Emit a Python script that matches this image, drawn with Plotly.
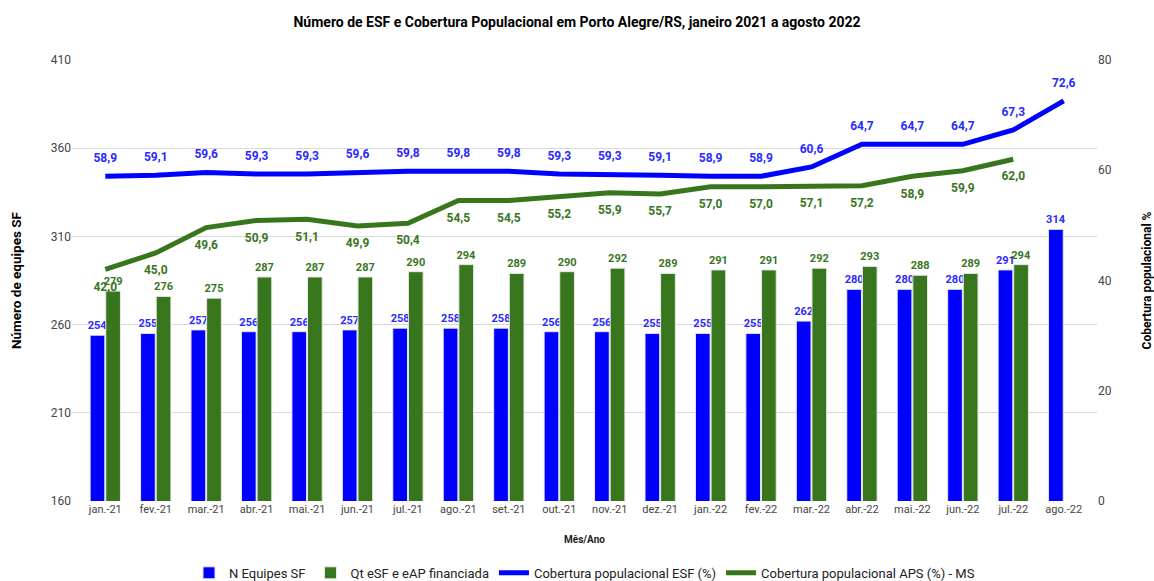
import plotly.graph_objects as go

meses = ["jan.-21", "fev.-21", "mar.-21", "abr.-21", "mai.-21", "jun.-21", "jul.-21",
         "ago.-21", "set.-21", "out.-21", "nov.-21", "dez.-21", "jan.-22", "fev.-22",
         "mar.-22", "abr.-22", "mai.-22", "jun.-22", "jul.-22", "ago.-22"]

n_equipes_sf = [254, 255, 257, 256, 256, 257, 258, 258, 258, 256, 256, 255, 255, 255,
                262, 280, 280, 280, 291, 314]
qt_financiada = [279, 276, 275, 287, 287, 287, 290, 294, 289, 290, 292, 289, 291, 291,
                 292, 293, 288, 289, 294, None]
cob_esf = [58.9, 59.1, 59.6, 59.3, 59.3, 59.6, 59.8, 59.8, 59.8, 59.3, 59.3, 59.1, 58.9,
           58.9, 60.6, 64.7, 64.7, 64.7, 67.3, 72.6]
cob_aps = [42.0, 45.0, 49.6, 50.9, 51.1, 49.9, 50.4, 54.5, 54.5, 55.2, 55.9, 55.7, 57.0,
           57.0, 57.1, 57.2, 58.9, 59.9, 62.0, None]

AZUL = "#0000ff"
VERDE = "#38761d"


def fmt(v):
    # vírgula decimal
    return "" if v is None else f"{v:.1f}".replace(".", ",")


fig = go.Figure()

fig.add_trace(go.Bar(
    x=meses, y=n_equipes_sf, name="N Equipes SF",
    marker=dict(color=AZUL, line=dict(color="#e8e8e8", width=1)),
    text=n_equipes_sf, textposition="outside", constraintext="none", cliponaxis=False,
    textfont=dict(color="#2a2aff", size=11, family="Roboto", weight="bold"),
))
fig.add_trace(go.Bar(
    x=meses, y=qt_financiada, name="Qt eSF e eAP financiada",
    marker=dict(color=VERDE, line=dict(color="#e8e8e8", width=1)),
    text=[("" if v is None else v) for v in qt_financiada], textposition="outside",
    constraintext="none", cliponaxis=False,
    textfont=dict(color=VERDE, size=11, family="Roboto", weight="bold"),
))
fig.add_trace(go.Scatter(
    x=meses, y=cob_esf, name="Cobertura populacional ESF (%)", yaxis="y2",
    mode="lines+markers+text", line=dict(color=AZUL, width=5),
    marker=dict(size=16, color="rgba(0,0,0,0)"),
    text=[fmt(v) for v in cob_esf], textposition="top center", cliponaxis=False,
    textfont=dict(color="#2a2aff", size=12, family="Roboto", weight="bold"),
))
fig.add_trace(go.Scatter(
    x=meses, y=cob_aps, name="Cobertura populacional APS (%) - MS", yaxis="y2",
    mode="lines+markers+text", line=dict(color=VERDE, width=5),
    marker=dict(size=18, color="rgba(0,0,0,0)"),
    text=[fmt(v) for v in cob_aps], textposition="bottom center", cliponaxis=False,
    textfont=dict(color=VERDE, size=12, family="Roboto", weight="bold"),
))

fig.update_layout(
    width=1154, height=581,
    margin=dict(l=72, r=57, t=60, b=80, autoexpand=False),
    paper_bgcolor="white", plot_bgcolor="white",
    font=dict(family="Roboto", color="#222"),
    title=dict(text="<b>Número de ESF e Cobertura Populacional em Porto Alegre/RS, janeiro 2021 a agosto 2022</b>",
               x=0.5, xanchor="center", y=0.962, yanchor="middle", yref="container",
               font=dict(size=14, color="#000")),
    barmode="group", bargap=0.38, bargroupgap=0.06,
    xaxis=dict(range=[-0.66, 19.66], tickfont=dict(size=11, color="#444"), automargin=False,
               title=dict(text="<b>Mês/Ano</b>", font=dict(size=10, color="#222"), standoff=20),
               showgrid=False, ticks=""),
    yaxis=dict(range=[160, 410], tickvals=[160, 210, 260, 310, 360, 410], automargin=False,
               gridcolor="#d9d9d9", zeroline=False, tickfont=dict(size=12, color="#444"),
               title=dict(text="<b>Número de equipes SF</b>", font=dict(size=13.5, color="#000"),
                          standoff=26)),
    yaxis2=dict(range=[0, 80], tickvals=[0, 20, 40, 60, 80], overlaying="y", side="right",
                showgrid=False, zeroline=False, tickfont=dict(size=12, color="#444"),
                automargin=False,
                title=dict(text="<b>Cobertura populacional %</b>", font=dict(size=12, color="#000"),
                           standoff=44)),
    legend=dict(orientation="h", x=0.5, xanchor="center", y=0.014, yanchor="middle",
                yref="container", font=dict(size=13, color="#222"), traceorder="normal",
                itemwidth=30),
    showlegend=True,
)

# remove a margem padrão do body para a figura ocupar a janela a partir de (0,0)
fig.write_html("out.html", config={"displayModeBar": False},
               post_script="document.body.style.margin='0';")
